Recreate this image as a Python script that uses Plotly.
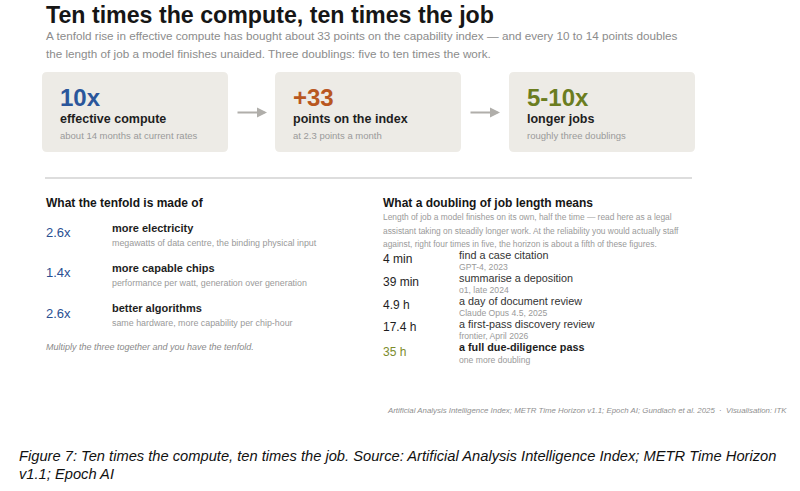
import plotly.graph_objects as go

# ---------------- data ----------------
title = "Ten times the compute, ten times the job"
subtitle_lines = [
    "A tenfold rise in effective compute has bought about 33 points on the capability index \u2014 and every 10 to 14 points doubles",
    "the length of job a model finishes unaided. Three doublings: five to ten times the work.",
]

headline_values = ["10x", "+33", "5-10x"]
headline_labels = ["effective compute", "points on the index", "longer jobs"]
headline_notes = ["about 14 months at current rates", "at 2.3 points a month", "roughly three doublings"]
headline_colors = ["#2a569b", "#b9571f", "#6b7d1f"]

factor_heading = "What the tenfold is made of"
factor_values = [2.6, 1.4, 2.6]
factor_labels = ["more electricity", "more capable chips", "better algorithms"]
factor_notes = [
    "megawatts of data centre, the binding physical input",
    "performance per watt, generation over generation",
    "same hardware, more capability per chip-hour",
]
factor_footnote = "Multiply the three together and you have the tenfold."

horizon_heading = "What a doubling of job length means"
horizon_intro = [
    "Length of job a model finishes on its own, half the time \u2014 read here as a legal",
    "assistant taking on steadily longer work. At the reliability you would actually staff",
    "against, right four times in five, the horizon is about a fifth of these figures.",
]
horizon_values = ["4 min", "39 min", "4.9 h", "17.4 h", "35 h"]
horizon_tasks = ["find a case citation", "summarise a deposition", "a day of document review",
                 "a first-pass discovery review", "a full due-diligence pass"]
horizon_models = ["GPT-4, 2023", "o1, late 2024", "Claude Opus 4.5, 2025", "frontier, April 2026",
                  "one more doubling"]

source_text = ("Artificial Analysis Intelligence Index; METR Time Horizon v1.1; Epoch AI; "
               "Gundlach et al. 2025  \u00b7  Visualisation: ITK")
caption_lines = [
    "Figure 7: Ten times the compute, ten times the job. Source: Artificial Analysis Intelligence Index; METR Time Horizon",
    "v1.1; Epoch AI",
]

# ---------------- layout helpers ----------------
W, H = 800, 491
FONT = "Liberation Sans, Arial, Helvetica, sans-serif"

annotations = []
shapes = []


def txt(x, y, s, size, color, bold=False, italic=False, family=FONT, xanchor="left"):
    if bold:
        s = "<b>" + s + "</b>"
    if italic:
        s = "<i>" + s + "</i>"
    annotations.append(dict(
        x=x, y=y, xref="x", yref="y", text=s, showarrow=False,
        xanchor=xanchor, yanchor="middle", align="left",
        font=dict(family=family, size=size, color=color), borderpad=0,
    ))


def rounded_rect(x0, y0, x1, y1, r, fill):
    path = (f"M {x0+r},{y0} L {x1-r},{y0} Q {x1},{y0} {x1},{y0+r} "
            f"L {x1},{y1-r} Q {x1},{y1} {x1-r},{y1} L {x0+r},{y1} "
            f"Q {x0},{y1} {x0},{y1-r} L {x0},{y0+r} Q {x0},{y0} {x0+r},{y0} Z")
    shapes.append(dict(type="path", path=path, xref="x", yref="y",
                       fillcolor=fill, line=dict(width=0), layer="below"))


# title + subtitle
txt(45, 15.2, title, 23.2, "#161616", bold=True)
txt(45, 35.3, subtitle_lines[0], 11.7, "#8c8c8c")
txt(45, 53.8, subtitle_lines[1], 11.7, "#8c8c8c")

# headline boxes
box_x0 = [42, 275, 509]
box_w = 186
for i in range(3):
    x0 = box_x0[i]
    rounded_rect(x0, 72, x0 + box_w, 152, 5, "#edebe6")
    txt(x0 + 17, 97.5, headline_values[i], 24, headline_colors[i], bold=True)
    txt(x0 + 17, 119, headline_labels[i], 12.5, "#1e1e1e", bold=True)
    txt(x0 + 17, 135.7, headline_notes[i], 9.5, "#9a9a9a")
    if i < 2:
        ax0 = x0 + box_w + 8
        annotations.append(dict(
            x=ax0 + 31, y=112.5, ax=ax0, ay=112.5, xref="x", yref="y",
            axref="x", ayref="y", text="", showarrow=True,
            arrowhead=2, arrowsize=1, arrowwidth=2, arrowcolor="#b0aeaa",
        ))

# divider
shapes.append(dict(type="line", x0=45, x1=692, y0=178, y1=178, xref="x", yref="y",
                   line=dict(color="#d2d2d2", width=1.5)))

# left section: what the tenfold is made of
txt(45, 202.7, factor_heading, 12, "#161616", bold=True)
num_y = [232, 272.7, 313]
lab_y = [227.7, 268, 308]
sub_y = [242.7, 282.7, 323]
for i in range(3):
    txt(45, num_y[i], f"{factor_values[i]:.1f}x", 13, "#2a4f92")
    txt(110.5, lab_y[i], factor_labels[i], 11, "#1e1e1e", bold=True)
    txt(110.5, sub_y[i], factor_notes[i], 8.9, "#9a9a9a")
txt(45, 346.7, factor_footnote, 9, "#8a8a8a", italic=True)

# right section: what a doubling means
txt(382, 202.7, horizon_heading, 12, "#161616", bold=True)
intro_y = [216.7, 230.5, 244.2]
for i, line in enumerate(horizon_intro):
    txt(382, intro_y[i], line, 8.4, "#9a9a9a")
val_y = [259, 281.7, 305, 327.3, 351.7]
task_y = [254.6, 278.0, 301.0, 324.3, 347.0]
mod_y = [266.6, 290.0, 313.2, 336.2, 359.8]
n = len(horizon_values)
for i in range(n):
    last = (i == n - 1)
    txt(382, val_y[i], horizon_values[i], 12, "#7c8c2c" if last else "#1e1e1e")
    txt(457.7, task_y[i], horizon_tasks[i], 10.8, "#1e1e1e" if last else "#333333", bold=last)
    txt(457.7, mod_y[i], horizon_models[i], 8.6, "#9a9a9a")

# source line
txt(788, 410, source_text, 7.85, "#8f8f8f", italic=True, xanchor="right")

# caption
txt(18, 455.5, caption_lines[0], 14.7, "#111111", italic=True)
txt(18, 474, caption_lines[1], 14.7, "#111111", italic=True)

fig = go.Figure()
fig.add_trace(go.Scatter(x=[], y=[], mode="markers", showlegend=False, hoverinfo="skip"))
fig.update_layout(
    width=W, height=H,
    margin=dict(l=0, r=0, t=0, b=0),
    paper_bgcolor="white", plot_bgcolor="white",
    xaxis=dict(range=[0, W], visible=False, fixedrange=True),
    yaxis=dict(range=[H, 0], visible=False, fixedrange=True),
    annotations=annotations, shapes=shapes,
    showlegend=False,
)
fig.write_html(
    "out.html",
    config={"displayModeBar": False},
    post_script="document.body.style.margin='0px';document.body.style.overflow='hidden';",
)
